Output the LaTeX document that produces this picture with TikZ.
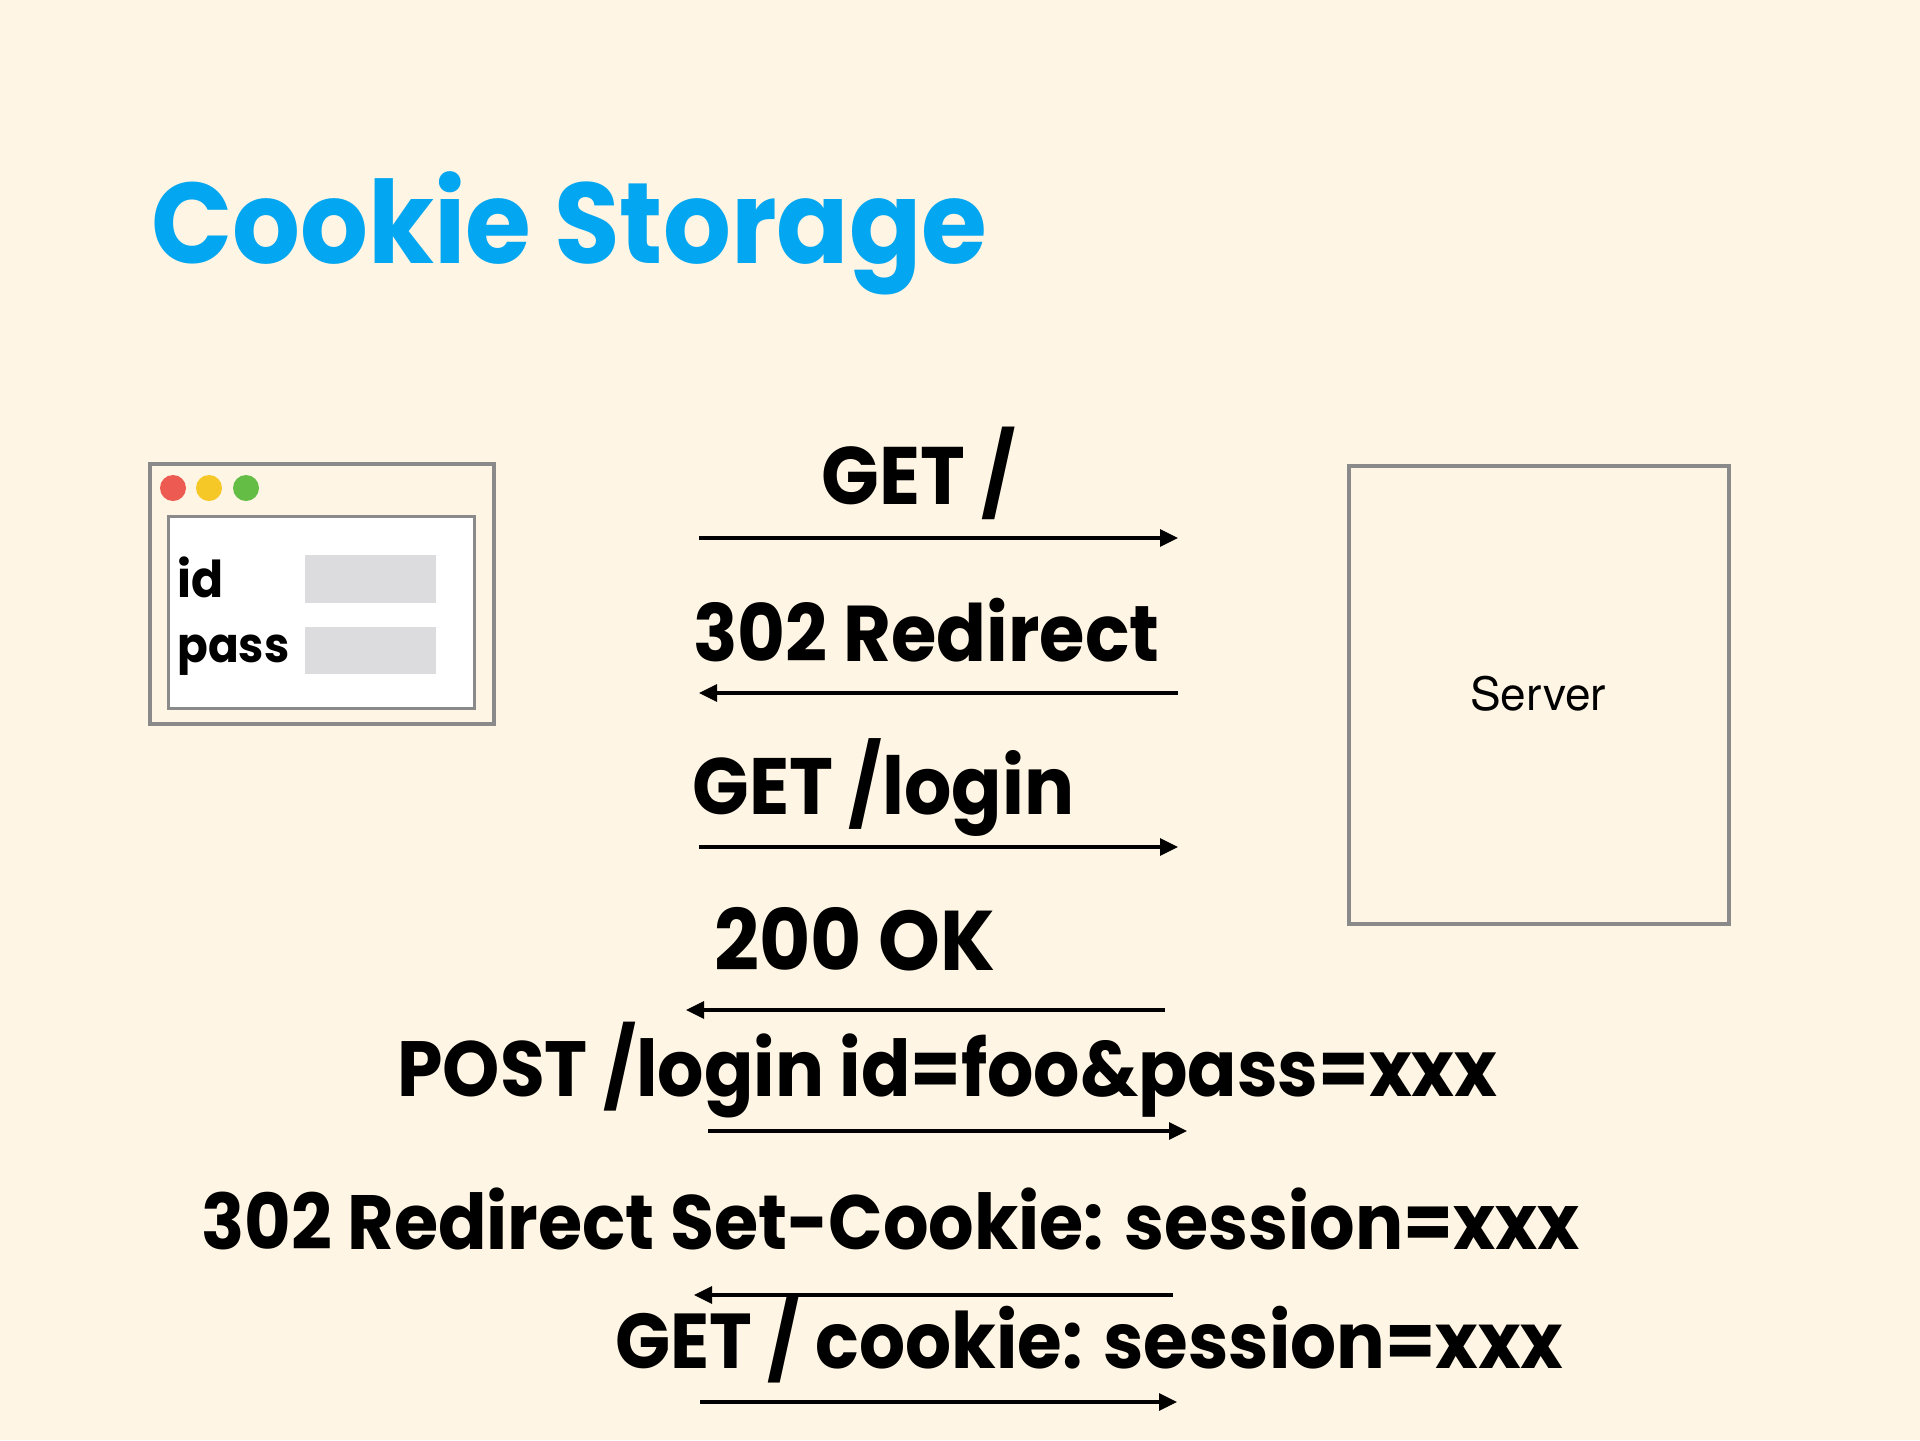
\documentclass[tikz,border=0pt]{standalone}
\usepackage{fontspec}
\setmainfont{Poppins}[FakeStretch=0.93]
\setsansfont{TeX Gyre Heros}
\usetikzlibrary{arrows.meta}
\definecolor{bg}{RGB}{254,245,228}
\definecolor{titleblue}{RGB}{3,166,240}
\definecolor{framegray}{RGB}{138,138,138}
\definecolor{fieldgray}{RGB}{220,220,222}
\definecolor{dotred}{RGB}{237,90,82}
\definecolor{dotyellow}{RGB}{245,200,40}
\definecolor{dotgreen}{RGB}{100,190,70}
\newcommand{\fitw}[2]{\resizebox{#1}{!}{\fontsize{40}{48}\selectfont\bfseries #2}}
\begin{document}
\begin{tikzpicture}[x=0.5pt,y=-0.5pt,
  msg/.style={anchor=base west, inner sep=0pt, text=black},
  flow/.style={line width=1.6pt, -{Triangle[length=9pt,width=8.5pt]}},
  dot/.style={circle, inner sep=0pt, minimum size=13pt},
  fieldbox/.style={fill=fieldgray, inner sep=0pt, anchor=north west}]
\useasboundingbox[fill=bg] (0,0) rectangle (1920,1440);
% title
\node[msg, text=titleblue] (title) at (151,263) {\fitw{418pt}{Cookie Storage}};
% browser
\node[draw=framegray, line width=2pt, fill=bg, anchor=north west, inner sep=0pt,
      minimum width=172pt, minimum height=130pt] (browser) at (148,462) {};
\node[draw=framegray, line width=1.5pt, fill=white, anchor=north west, inner sep=0pt,
      minimum width=153pt, minimum height=96pt] (form) at (167,515) {};
\node[dot, fill=dotred] (d1) at (173,488) {};
\node[dot, fill=dotyellow] (d2) at (209,488) {};
\node[dot, fill=dotgreen] (d3) at (246,488) {};
\node[msg] (idlbl) at (177,597) {\fitw{23pt}{id}};
\node[msg] (passlbl) at (177,662) {\fitw{56pt}{pass}};
\node[fieldbox, minimum width=65.5pt, minimum height=24pt] (idfield) at (305,555) {};
\node[fieldbox, minimum width=65.5pt, minimum height=23.5pt] (passfield) at (305,627) {};
% server
\node[draw=framegray, line width=1.75pt, anchor=north west, inner sep=0pt,
      minimum width=190pt, minimum height=229pt] (server) at (1347,464) {};
\node[anchor=base, inner sep=0pt, font=\sffamily\fontsize{23}{23}\selectfont] (srvlabel) at (1538,710) {Server};
% messages
\node[msg] (m1) at (821,504) {\fitw{97pt}{GET /}};
\node[msg] (m2) at (693,661) {\fitw{233pt}{302 Redirect}};
\node[msg] (m3) at (692,814) {\fitw{191pt}{GET /login}};
\node[msg] (m4) at (714,970) {\fitw{140.5pt}{200 OK}};
\node[msg] (m5) at (397,1096) {\fitw{550pt}{POST /login id=foo\&pass=xxx}};
\node[msg] (m6) at (201,1249) {\fitw{689pt}{302 Redirect Set-Cookie: session=xxx}};
\node[msg] (m7) at (615,1368) {\fitw{474pt}{GET / cookie: session=xxx}};
% arrows
\coordinate (a1l) at (699,538);  \coordinate (a1r) at (1178,538);
\coordinate (a2l) at (699,693);  \coordinate (a2r) at (1178,693);
\coordinate (a3l) at (699,847);  \coordinate (a3r) at (1178,847);
\coordinate (a4l) at (686,1010); \coordinate (a4r) at (1165,1010);
\coordinate (a5l) at (708,1131); \coordinate (a5r) at (1187,1131);
\coordinate (a6l) at (694,1295); \coordinate (a6r) at (1173,1295);
\coordinate (a7l) at (700,1402); \coordinate (a7r) at (1177,1402);
\draw[flow] (a1l) -- (a1r);
\draw[flow] (a2r) -- (a2l);
\draw[flow] (a3l) -- (a3r);
\draw[flow] (a4r) -- (a4l);
\draw[flow] (a5l) -- (a5r);
\draw[flow] (a6r) -- (a6l);
\draw[flow] (a7l) -- (a7r);
\end{tikzpicture}
\end{document}
